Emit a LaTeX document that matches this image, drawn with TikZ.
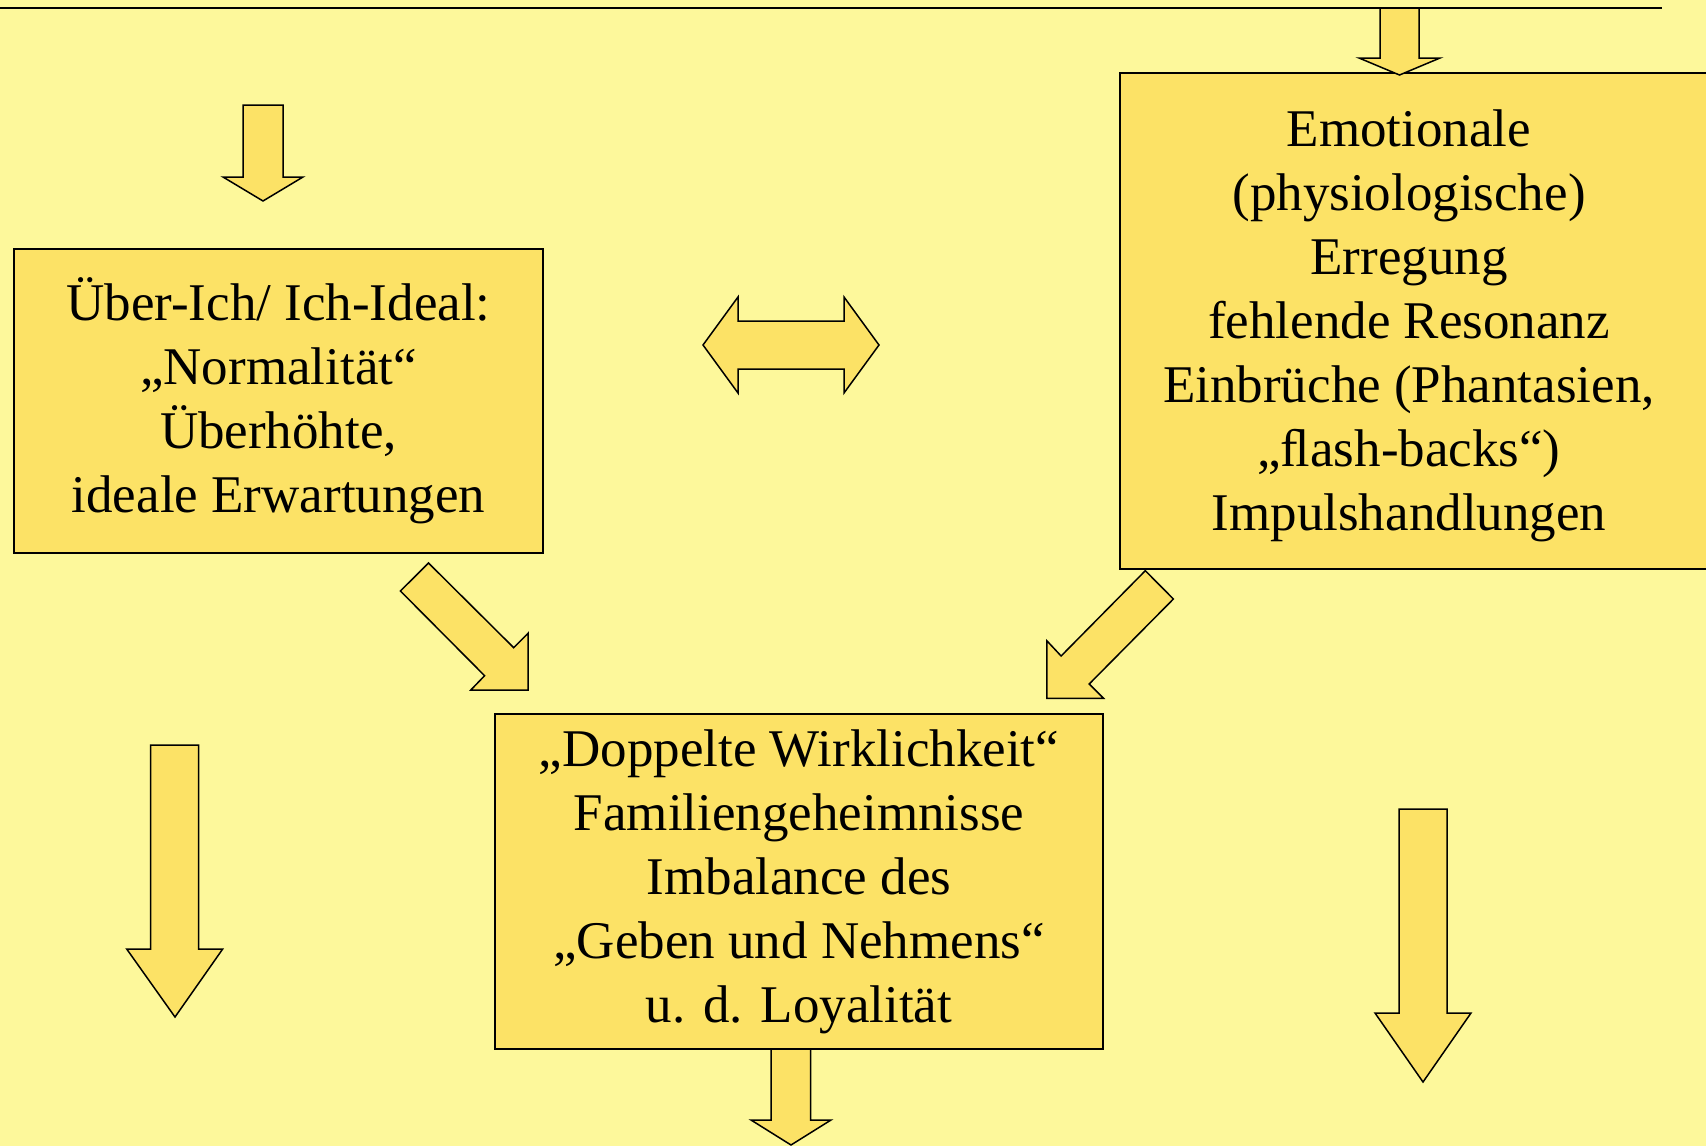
\documentclass[tikz,border=0pt]{standalone}
\usepackage{fontspec}
\setmainfont{Liberation Serif}

\definecolor{paper}{RGB}{253,248,155}
\definecolor{boxfill}{RGB}{252,226,102}

\begin{document}
\begin{tikzpicture}[x=1pt, y=-1pt,
	box/.style={draw=black, line width=1.5pt, fill=boxfill},
	boxtext/.style={align=center, inner sep=0pt, font=\fontsize{53}{64}\selectfont},
	blockarrow/.style={draw=black, line width=1.5pt, fill=boxfill, line join=miter}]
	
	\useasboundingbox (0,0) rectangle (1706,1146);
	\fill[paper] (0,0) rectangle (1706,1146);
	\draw[line width=2pt] (0,7.5) -- (1662,7.5);
	
	% boxes
	\node[box, boxtext, minimum width=529pt, minimum height=304pt] (ueberich) at (278.5, 401) {Über-Ich/ Ich-Ideal:\\„Normalität“\\Überhöhte,\\ideale Erwartungen};
	\draw[box] (1120,73) rectangle (1720,569);
	\node[boxtext] (emotion) at (1409, 325.5) {Emotionale\\(physiologische)\\Erregung\\fehlende Resonanz\\Einbrüche (Phantasien,\\„ﬂash-backs“)\\Impulshandlungen};
	\node[box, boxtext, minimum width=608pt, minimum height=335pt] (wirklichkeit) at (799, 881.5) {„Doppelte Wirklichkeit“\\Familiengeheimnisse\\Imbalance des\\„Geben und Nehmens“\\u. d. Loyalität};
	
	% arrows at the top
	\draw[blockarrow] (1380,8) -- (1419,8) -- (1419,58) -- (1440,58) -- (1399.5,75) -- (1359,58) -- (1380,58) -- cycle;
	\draw[blockarrow] (243,105) -- (283,105) -- (283,177) -- (303,177) -- (263,201) -- (223,177) -- (243,177) -- cycle;
	
	% double arrow
	\draw[blockarrow] (703,345) -- (738,297) -- (738,321) -- (844,321) -- (844,297) -- (879,345) -- (844,393) -- (844,369) -- (738,369) -- (738,393) -- cycle;
	
	% diagonal arrows
	\draw[blockarrow] (428.5,563) -- (513.7,647.7) -- (528,633.3) -- (528,690) -- (470.8,690) -- (484.6,675.7) -- (400.4,591) -- cycle;
	\draw[blockarrow] (1145.3,570.7) -- (1173.4,599) -- (1089.2,684) -- (1103.5,698.3) -- (1046.8,698.3) -- (1046.8,640.7) -- (1061.1,656) -- cycle;
	
	% arrows at the bottom
	\draw[blockarrow] (150.7,745) -- (198.7,745) -- (198.7,949) -- (222.7,949) -- (175,1017) -- (126.7,949) -- (150.7,949) -- cycle;
	\draw[blockarrow] (771,1049) -- (810.6,1049) -- (810.6,1120) -- (831,1120) -- (791,1145) -- (751,1120) -- (771,1120) -- cycle;
	\draw[blockarrow] (1399,809) -- (1447,809) -- (1447,1013) -- (1471,1013) -- (1423,1082) -- (1375,1013) -- (1399,1013) -- cycle;
	
\end{tikzpicture}
\end{document}
